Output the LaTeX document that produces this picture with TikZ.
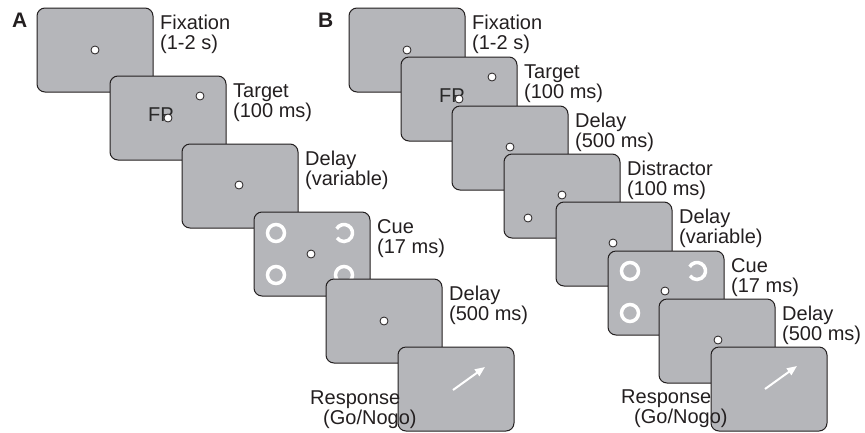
\documentclass[tikz,border=0pt]{standalone}
\usepackage{fontspec}
\setmainfont{Liberation Sans}
\usetikzlibrary{arrows.meta,calc}
\definecolor{scr}{RGB}{181,182,186}
\definecolor{edge}{RGB}{35,31,32}
\definecolor{fptext}{RGB}{40,40,40}
\tikzset{
  screen/.style={draw=edge, line width=1pt, fill=scr, rounded corners=8pt,
    minimum width=116pt, minimum height=84pt, anchor=north west,
    inner sep=0pt, outer sep=0pt},
  fixdot/.style={circle, draw=edge, fill=white, line width=0.8pt,
    minimum size=8pt, inner sep=0pt},
  lab/.style={anchor=base west, align=left, inner sep=0pt,
    font=\fontsize{20}{20}\selectfont, text=edge},
  fptxt/.style={anchor=base west, inner sep=0pt,
    font=\fontsize{20}{20}\selectfont, text=fptext},
  ring/.style={draw=white, line width=3.5pt},
  panel/.style={anchor=base west, inner sep=0pt,
    font=\bfseries\fontsize{21}{21}\selectfont, text=edge},
  goarrow/.style={draw=white, line width=2pt, -{Triangle[length=10pt,width=8pt]}},
}
\begin{document}
\begin{tikzpicture}[x=1pt,y=-1pt]
\useasboundingbox (0,0) rectangle (865,432);

% ---------------- Panel A ----------------
\node[panel] (pA) at (12,27) {A};

\node[screen] (a1) at (37,8) {};
\node[fixdot] (a1d) at ($(a1.north west)+(58,42)$) {};
\node[lab] (a1l) at ($(a1.north east)+(7,41)$) {Fixation\\(1-2 s)};

\node[screen] (a2) at (110,76) {};
\node[fptxt] (a2fp) at ($(a2.north west)+(38,45)$) {FP};
\node[fixdot] (a2d) at ($(a2.north west)+(58,42)$) {};
\node[fixdot] (a2t) at ($(a2.north west)+(90,20)$) {};
\node[lab] (a2l) at ($(a2.north east)+(7,41)$) {Target\\(100 ms)};

\node[screen] (a3) at (182,144) {};
\node[fixdot] (a3d) at ($(a3.north west)+(57,41)$) {};
\node[lab] (a3l) at ($(a3.north east)+(7,41)$) {Delay\\(variable)};

\node[screen] (a4) at (254,212) {};
\draw[ring] ($(a4.north west)+(22,21)$) circle[radius=8.5];
\draw[ring] ($(a4.north west)+(90,21)$) ++(-150:8.5) arc[start angle=-150, end angle=145, radius=8.5];
\draw[ring] ($(a4.north west)+(22,63)$) circle[radius=8.5];
\draw[ring] ($(a4.north west)+(90,63)$) circle[radius=8.5];
\node[fixdot] (a4d) at ($(a4.north west)+(57,42)$) {};
\node[lab] (a4l) at ($(a4.north east)+(7,41)$) {Cue\\(17 ms)};

\node[screen] (a5) at (326,279) {};
\node[fixdot] (a5d) at ($(a5.north west)+(58,42)$) {};
\node[lab] (a5l) at ($(a5.north east)+(7,41)$) {Delay\\(500 ms)};

\node[screen] (a6) at (398,347) {};
\coordinate (a6s) at ($(a6.north west)+(55,43)$);
\coordinate (a6e) at ($(a6.north west)+(87,20)$);
\draw[goarrow] (a6s) -- (a6e);
\node[lab] (a6l) at (310,424) {Response\\\hspace*{13pt}(Go/Nogo)};

% ---------------- Panel B ----------------
\node[panel] (pB) at (318,27) {B};

\node[screen] (b1) at (349,8) {};
\node[fixdot] (b1d) at ($(b1.north west)+(58,42)$) {};
\node[lab] (b1l) at ($(b1.north east)+(7,41)$) {Fixation\\(1-2 s)};

\node[screen] (b2) at (401,57) {};
\node[fptxt] (b2fp) at ($(b2.north west)+(38,45)$) {FP};
\node[fixdot] (b2d) at ($(b2.north west)+(58,42)$) {};
\node[fixdot] (b2t) at ($(b2.north west)+(91,20)$) {};
\node[lab] (b2l) at ($(b2.north east)+(7,41)$) {Target\\(100 ms)};

\node[screen] (b3) at (452,106) {};
\node[fixdot] (b3d) at ($(b3.north west)+(58,41)$) {};
\node[lab] (b3l) at ($(b3.north east)+(7,41)$) {Delay\\(500 ms)};

\node[screen] (b4) at (504,154) {};
\node[fixdot] (b4d) at ($(b4.north west)+(58,41)$) {};
\node[fixdot] (b4x) at ($(b4.north west)+(24,64)$) {};
\node[lab] (b4l) at ($(b4.north east)+(7,41)$) {Distractor\\(100 ms)};

\node[screen] (b5) at (556,202) {};
\node[fixdot] (b5d) at ($(b5.north west)+(57,41)$) {};
\node[lab] (b5l) at ($(b5.north east)+(7,41)$) {Delay\\(variable)};

\node[screen] (b6) at (608,251) {};
\draw[ring] ($(b6.north west)+(22,20)$) circle[radius=8.5];
\draw[ring] ($(b6.north west)+(89,20)$) ++(-150:8.5) arc[start angle=-150, end angle=145, radius=8.5];
\draw[ring] ($(b6.north west)+(22,62)$) circle[radius=8.5];
\draw[ring] ($(b6.north west)+(89,62)$) circle[radius=8.5];
\node[fixdot] (b6d) at ($(b6.north west)+(57,40)$) {};
\node[lab] (b6l) at ($(b6.north east)+(7,41)$) {Cue\\(17 ms)};

\node[screen] (b7) at (659,299) {};
\node[fixdot] (b7d) at ($(b7.north west)+(59,41)$) {};
\node[lab] (b7l) at ($(b7.north east)+(7,41)$) {Delay\\(500 ms)};

\node[screen] (b8) at (711,347) {};
\coordinate (b8s) at ($(b8.north west)+(54,42)$);
\coordinate (b8e) at ($(b8.north west)+(86,19)$);
\draw[goarrow] (b8s) -- (b8e);
\node[lab] (b8l) at (621,423) {Response\\\hspace*{13pt}(Go/Nogo)};
\end{tikzpicture}
\end{document}
